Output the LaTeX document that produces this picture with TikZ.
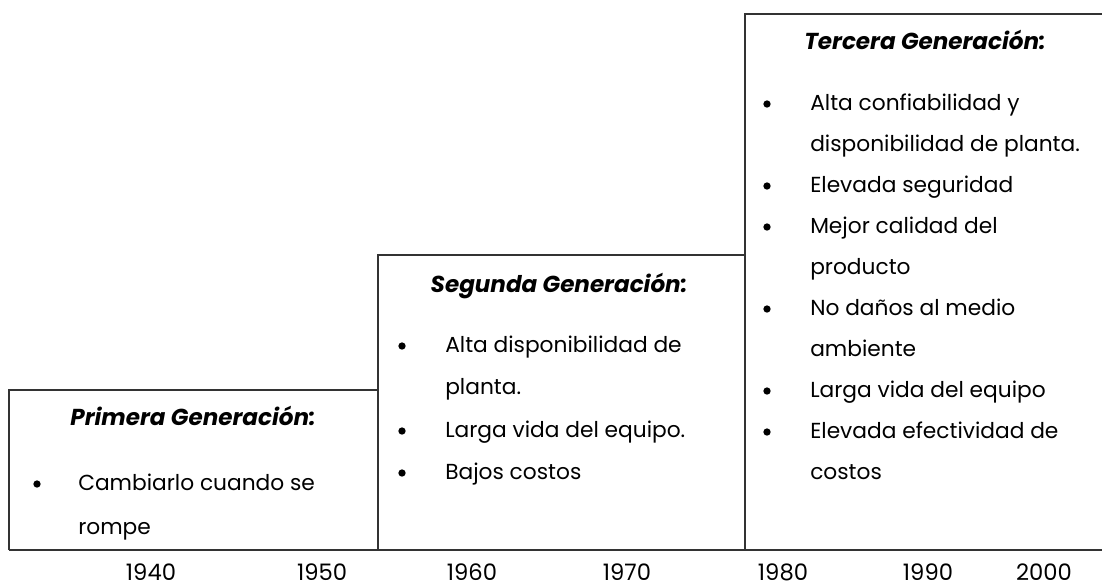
\documentclass[tikz,border=0pt]{standalone}
\usepackage{fontspec}
\setmainfont{Poppins}
\begin{document}
\begin{tikzpicture}[x=0.75pt,y=-0.75pt]
		\begin{scope}[scale=1]
		
		\tikzstyle{gentitle}=[anchor=base,
		inner sep=0pt,
		font=\fontsize{17.3}{20}\selectfont\bfseries\itshape
		]
		\tikzstyle{gentext}=[anchor=base west,
		inner sep=0pt,
		font=\fontsize{16.3}{20}\selectfont
		]
		\tikzstyle{genbullet}=[circle,
		fill=black,
		inner sep=0pt,
		minimum size=5.5pt
		]
		\tikzstyle{yearlabel}=[anchor=base,
		inner sep=0pt,
		font=\fontsize{17}{20}\selectfont
		]
		\tikzstyle{stepline}=[line width=1.6pt,
		draw=black!80
		]
		
		\useasboundingbox (0,0) rectangle (1102,586);
		
		% staircase
		\coordinate (pl) at (9, 550);
		\coordinate (pr) at (1102, 550);
		\coordinate (pa1) at (9, 390);
		\coordinate (pa2) at (378, 390);
		\coordinate (pm1) at (378, 550);
		\coordinate (pb1) at (378, 255);
		\coordinate (pb2) at (745, 255);
		\coordinate (pm2) at (745, 550);
		\coordinate (pc1) at (745, 14);
		\coordinate (pc2) at (1102, 14);
		
		\draw[stepline] (pl) -- (pa1) -- (pa2);
		\draw[stepline] (pm1) -- (pb1) -- (pb2);
		\draw[stepline] (pm2) -- (pc1) -- (pc2);
		\draw[stepline] (pl) -- (pr);
		
		% primera
		\node[gentitle] (t1) at (193, 425) {Primera Generación:};
		\node[genbullet] (b11) at (37, 484) {};
		\node[gentext] (l11) at (78, 490) {Cambiarlo cuando se};
		\node[gentext] (l12) at (78, 534) {rompe};
		
		% segunda
		\node[gentitle] (t2) at (559, 292) {Segunda Generación:};
		\node[genbullet] (b21) at (402, 346) {};
		\node[gentext] (l21) at (445, 352) {Alta disponibilidad de};
		\node[gentext] (l22) at (445, 394) {planta.};
		\node[genbullet] (b22) at (402, 431) {};
		\node[gentext] (l23) at (445, 437) {Larga vida del equipo.};
		\node[genbullet] (b23) at (402, 473) {};
		\node[gentext] (l24) at (445, 479) {Bajos costos};
		
		% tercera
		\node[gentitle] (t3) at (925, 49) {Tercera Generación:};
		\node[genbullet] (b31) at (767, 104) {};
		\node[gentext] (l31) at (810, 110) {Alta confiabilidad y};
		\node[gentext] (l32) at (810, 151) {disponibilidad de planta.};
		\node[genbullet] (b32) at (767, 186) {};
		\node[gentext] (l33) at (810, 192) {Elevada seguridad};
		\node[genbullet] (b33) at (767, 227) {};
		\node[gentext] (l34) at (810, 233) {Mejor calidad del};
		\node[gentext] (l35) at (810, 274) {producto};
		\node[genbullet] (b34) at (767, 309) {};
		\node[gentext] (l36) at (810, 315) {No daños al medio};
		\node[gentext] (l37) at (810, 356) {ambiente};
		\node[genbullet] (b35) at (767, 391) {};
		\node[gentext] (l38) at (810, 397) {Larga vida del equipo};
		\node[genbullet] (b36) at (767, 432) {};
		\node[gentext] (l39) at (810, 438) {Elevada efectividad de};
		\node[gentext] (l310) at (810, 479) {costos};
		
		% years
		\node[yearlabel] (y1) at (151, 580) {1940};
		\node[yearlabel] (y2) at (322, 580) {1950};
		\node[yearlabel] (y3) at (472, 580) {1960};
		\node[yearlabel] (y4) at (627, 580) {1970};
		\node[yearlabel] (y5) at (783, 580) {1980};
		\node[yearlabel] (y6) at (928, 580) {1990};
		\node[yearlabel] (y7) at (1044, 580) {2000};
		
		\end{scope}
		\end{tikzpicture}
\end{document}
